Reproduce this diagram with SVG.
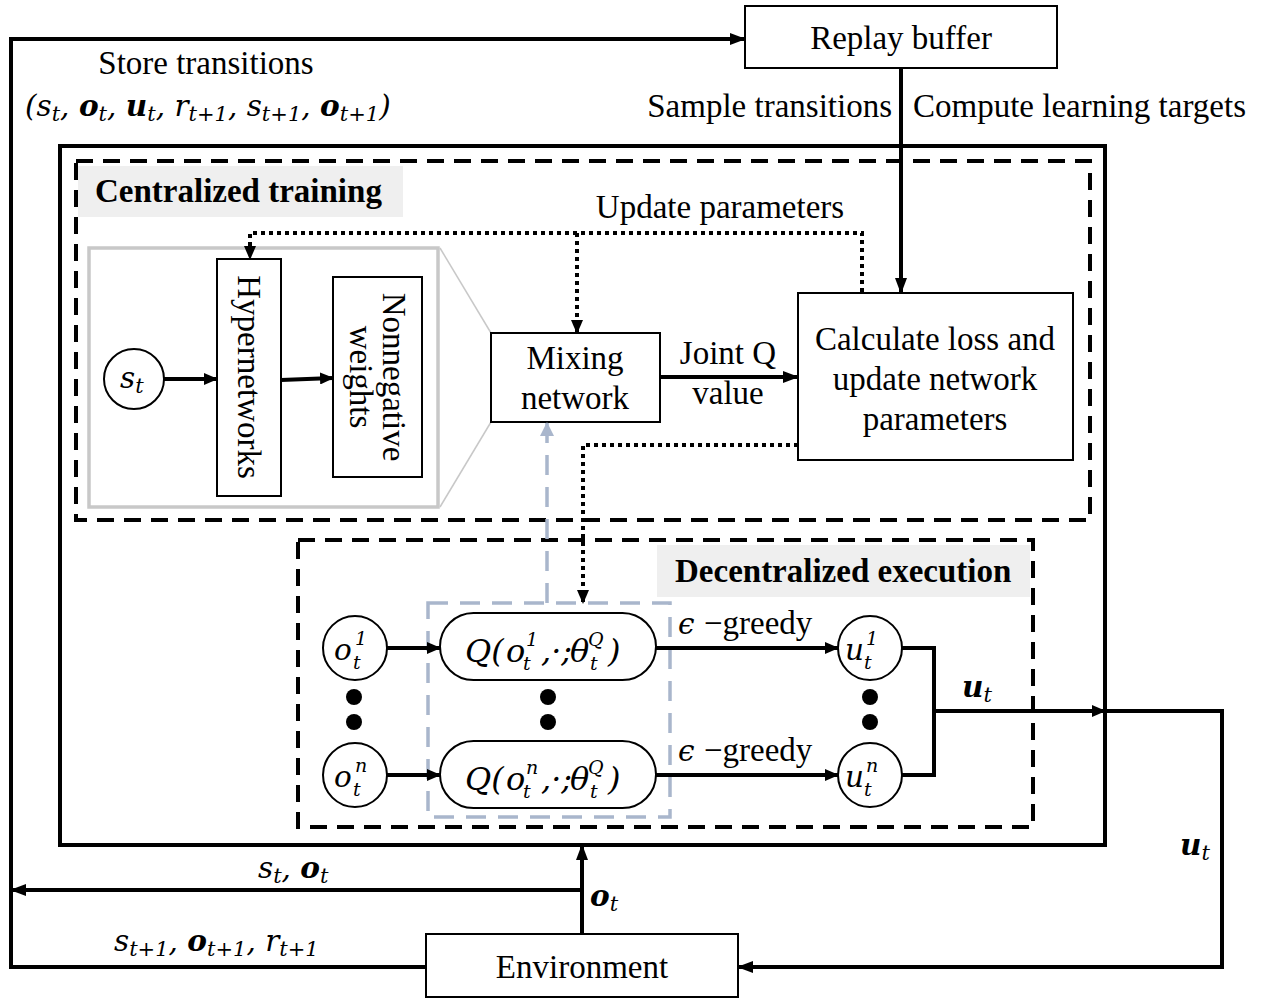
<svg xmlns="http://www.w3.org/2000/svg" width="1261" height="999" viewBox="0 0 1261 999">
<defs>
<marker id="ah" markerUnits="userSpaceOnUse" markerWidth="16" markerHeight="12" refX="15" refY="6" orient="auto"><path d="M0,0 L16,6 L0,12 z" fill="#000"/></marker>
<marker id="ahs" markerUnits="userSpaceOnUse" markerWidth="14" markerHeight="12" refX="13" refY="6" orient="auto"><path d="M0,0 L14,6 L0,12 z" fill="#000"/></marker>
<marker id="ahb" markerUnits="userSpaceOnUse" markerWidth="14" markerHeight="14" refX="13" refY="7" orient="auto"><path d="M0,0 L14,7 L0,14 z" fill="#a9b6cc"/></marker>
</defs>
<style>
.t{font-family:"Liberation Serif","Times New Roman",serif;font-size:33px;font-style:normal;fill:#000}
.tb{font-family:"Liberation Serif","Times New Roman",serif;font-size:33px;font-weight:bold;fill:#000}
.m{font-family:"DejaVu Serif",serif;font-style:italic;font-size:29.5px;fill:#000}
.q{font-family:"DejaVu Serif",serif;font-style:italic;font-size:32px;fill:#000}
.sc{font-family:"DejaVu Serif",serif;font-style:italic;font-size:19px;fill:#000}
.s{font-size:21px}
.b{font-weight:bold}
.box{fill:#fff;stroke:#000;stroke-width:2}
.ln{fill:none;stroke:#000;stroke-width:4}
.dash{fill:none;stroke:#000;stroke-width:4;stroke-dasharray:17 10}
.dot{fill:none;stroke:#000;stroke-width:4;stroke-dasharray:4 4}
.bd{fill:none;stroke:#a9b6cc;stroke-width:3.5;stroke-dasharray:20 12}
</style>
<g id="main-box"><rect x="60" y="146" width="1045" height="699" fill="none" stroke="#000" stroke-width="4"/></g>
<g id="centralized-training">
<rect x="76" y="161" width="1014" height="359" class="dash"/>
<rect x="78" y="166" width="325" height="51" fill="#efefef"/>
<text x="95" y="202" class="tb">Centralized training</text>
</g>
<g id="decentralized-execution">
<rect x="298" y="540" width="735" height="287" class="dash"/>
<rect x="657" y="545" width="373" height="52" fill="#efefef"/>
<text x="675" y="582" class="tb">Decentralized execution</text>
</g>
<g id="replay-buffer"><rect x="745" y="6" width="312" height="62" class="box"/><text x="901" y="49" class="t" text-anchor="middle">Replay buffer</text></g>
<g id="environment"><rect x="426" y="934" width="312" height="63" class="box"/><text x="582" y="978" class="t" text-anchor="middle">Environment</text></g>
<g id="hyper-detail">
<rect x="89" y="248" width="349" height="259" fill="none" stroke="#c8c8c8" stroke-width="3.5"/>
<line x1="440" y1="248" x2="491" y2="333" stroke="#c8c8c8" stroke-width="1.5"/>
<line x1="440" y1="507" x2="491" y2="422" stroke="#c8c8c8" stroke-width="1.5"/>
</g>
<g id="node-st"><circle cx="134" cy="379" r="30" class="box"/><text x="120" y="388" class="m">s<tspan class="s" dy="5">t</tspan></text></g>
<g id="hypernetworks"><rect x="217" y="259" width="64" height="237" class="box"/><text transform="translate(249,377) rotate(90)" x="0" y="11" class="t" text-anchor="middle">Hypernetworks</text></g>
<g id="nonnegative-weights"><rect x="333" y="277" width="89" height="200" class="box"/><text transform="translate(377,377) rotate(90)" class="t" text-anchor="middle"><tspan x="0" y="-6">Nonnegative</tspan><tspan x="0" y="27">weights</tspan></text></g>
<g id="mixing-network"><rect x="491" y="333" width="169" height="89" class="box"/><text class="t" text-anchor="middle"><tspan x="575" y="369">Mixing</tspan><tspan x="575" y="409">network</tspan></text></g>
<g id="calculate-loss"><rect x="798" y="293" width="275" height="167" class="box"/><text class="t" text-anchor="middle"><tspan x="935" y="350">Calculate loss and</tspan><tspan x="935" y="390">update network</tspan><tspan x="935" y="430">parameters</tspan></text></g>
<g id="q-group">
<rect x="428" y="603" width="242" height="214" class="bd"/>
</g>
<g id="node-o1"><circle cx="355" cy="648" r="32" class="box"/><text x="334" y="660" class="m">o</text><text x="355" y="645" class="sc">1</text><text x="353" y="669" class="sc">t</text></g>
<g id="node-on"><circle cx="355" cy="775" r="32" class="box"/><text x="334" y="787" class="m">o</text><text x="355" y="772" class="sc">n</text><text x="353" y="796" class="sc">t</text></g>
<g id="node-q1"><rect x="440" y="613" width="216" height="67" rx="33.5" class="box"/><text x="465" y="662" class="q">Q(</text><text x="506" y="662" class="q">o</text><text x="526" y="646" class="sc">1</text><text x="523" y="670" class="sc">t</text><text x="541" y="662" class="q">,·;</text><text x="570" y="662" class="q">θ</text><text x="588" y="646" class="sc">Q</text><text x="590" y="670" class="sc">t</text><text x="608" y="662" class="q">)</text></g>
<g id="node-qn"><rect x="440" y="741" width="216" height="67" rx="33.5" class="box"/><text x="465" y="790" class="q">Q(</text><text x="506" y="790" class="q">o</text><text x="526" y="774" class="sc">n</text><text x="523" y="798" class="sc">t</text><text x="541" y="790" class="q">,·;</text><text x="570" y="790" class="q">θ</text><text x="588" y="774" class="sc">Q</text><text x="590" y="798" class="sc">t</text><text x="608" y="790" class="q">)</text></g>
<g id="node-u1"><circle cx="870" cy="648" r="32" class="box"/><text x="845" y="660" class="m">u</text><text x="866" y="645" class="sc">1</text><text x="864" y="669" class="sc">t</text></g>
<g id="node-un"><circle cx="870" cy="775" r="32" class="box"/><text x="845" y="787" class="m">u</text><text x="866" y="772" class="sc">n</text><text x="864" y="796" class="sc">t</text></g>
<g id="ellipsis">
<circle cx="354" cy="697" r="8"/><circle cx="354" cy="722" r="8"/>
<circle cx="548" cy="697" r="8"/><circle cx="548" cy="722" r="8"/>
<circle cx="870" cy="697" r="8"/><circle cx="870" cy="722" r="8"/>
</g>
<g id="connectors">
<polyline points="426,967 11,967 11,39 745,39" class="ln" marker-end="url(#ah)"/>
<line x1="901" y1="68" x2="901" y2="293" class="ln" marker-end="url(#ah)"/>
<line x1="164" y1="379" x2="217" y2="379" class="ln" marker-end="url(#ahs)"/>
<line x1="281" y1="380" x2="333" y2="378" class="ln" marker-end="url(#ahs)"/>
<line x1="660" y1="377" x2="798" y2="377" class="ln" marker-end="url(#ah)"/>
<polyline points="862,292 862,233 250,233 250,259" class="dot" marker-end="url(#ahs)"/>
<line x1="577" y1="233" x2="577" y2="333" class="dot" marker-end="url(#ahs)"/>
<polyline points="798,445 583,445 583,603" class="dot" marker-end="url(#ahs)"/>
<line x1="547" y1="603" x2="547" y2="423" class="bd" marker-end="url(#ahb)"/>
<line x1="387" y1="648" x2="440" y2="648" class="ln" marker-end="url(#ahs)"/>
<line x1="387" y1="775" x2="440" y2="775" class="ln" marker-end="url(#ahs)"/>
<line x1="656" y1="648" x2="838" y2="648" class="ln" marker-end="url(#ahs)"/>
<line x1="656" y1="775" x2="838" y2="775" class="ln" marker-end="url(#ahs)"/>
<polyline points="902,648 934,648 934,775 902,775" class="ln"/>
<line x1="934" y1="711" x2="1105" y2="711" class="ln" marker-end="url(#ahs)"/>
<polyline points="1105,711 1222,711 1222,967 738,967" class="ln" marker-end="url(#ah)"/>
<line x1="582" y1="934" x2="582" y2="845" class="ln" marker-end="url(#ah)"/>
<line x1="582" y1="890" x2="11" y2="890" class="ln" marker-end="url(#ah)"/>
</g>
<g id="labels">
<text x="206" y="74" class="t" text-anchor="middle">Store transitions</text>
<text x="25" y="116" class="m">(s<tspan class="s" dy="5">t</tspan><tspan dy="-5">, </tspan><tspan class="b">o</tspan><tspan class="s" dy="5">t</tspan><tspan dy="-5">, </tspan><tspan class="b">u</tspan><tspan class="s" dy="5">t</tspan><tspan dy="-5">, r</tspan><tspan class="s" dy="5">t+1</tspan><tspan dy="-5">, s</tspan><tspan class="s" dy="5">t+1</tspan><tspan dy="-5">, </tspan><tspan class="b">o</tspan><tspan class="s" dy="5">t+1</tspan><tspan dy="-5">)</tspan></text>
<text x="892" y="117" class="t" text-anchor="end">Sample transitions</text>
<text x="913" y="117" class="t">Compute learning targets</text>
<text x="720" y="218" class="t" text-anchor="middle">Update parameters</text>
<text x="728" y="364" class="t" text-anchor="middle">Joint Q</text>
<text x="728" y="404" class="t" text-anchor="middle">value</text>
<text x="678" y="634" class="m">ϵ <tspan class="t">−greedy</tspan></text>
<text x="678" y="761" class="m">ϵ <tspan class="t">−greedy</tspan></text>
<text x="962" y="697" class="m"><tspan class="b">u</tspan><tspan class="s" dy="5">t</tspan></text>
<text x="1180" y="855" class="m"><tspan class="b">u</tspan><tspan class="s" dy="5">t</tspan></text>
<text x="590" y="906" class="m"><tspan class="b">o</tspan><tspan class="s" dy="5">t</tspan></text>
<text x="258" y="878" class="m">s<tspan class="s" dy="5">t</tspan><tspan dy="-5">, </tspan><tspan class="b">o</tspan><tspan class="s" dy="5">t</tspan></text>
<text x="114" y="951" class="m">s<tspan class="s" dy="5">t+1</tspan><tspan dy="-5">, </tspan><tspan class="b">o</tspan><tspan class="s" dy="5">t+1</tspan><tspan dy="-5">, r</tspan><tspan class="s" dy="5">t+1</tspan></text>
</g>
</svg>
